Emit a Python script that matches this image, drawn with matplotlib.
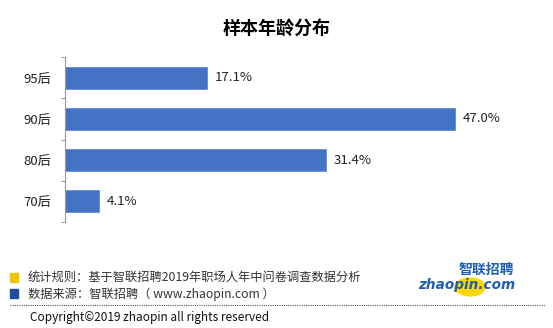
import matplotlib.pyplot as plt
from matplotlib.patches import Circle, Rectangle
from matplotlib.lines import Line2D

plt.rcParams['font.family'] = ['Noto Sans CJK SC', 'DejaVu Sans']

# 数据
groups = ['95后', '90后', '80后', '70后']
shares = [17.1, 47.0, 31.4, 4.1]
labels = ['17.1%', '47.0%', '31.4%', '4.1%']

fig = plt.figure(figsize=(5.53, 3.28), dpi=100)
W, H = 553, 328

ax = fig.add_axes([65 / W, 1 - 222 / H, 480 / W, 165 / H])
pos = list(range(len(groups)))
ax.barh(pos, shares, height=0.53, color='#4472C4', edgecolor='#5B84D0', linewidth=0.5)
ax.set_ylim(len(groups) - 0.5, -0.5)
ax.set_xlim(0, 57.8)
ax.set_yticks(pos)
ax.set_yticklabels(groups, fontsize=9.5, color='#222222')
ax.tick_params(axis='y', length=0, pad=10)
ax.set_yticks([p - 0.5 for p in range(len(groups) + 1)], minor=True)
ax.tick_params(axis='y', which='minor', length=3, color='#999999', width=0.8)
ax.set_xticks([])
for s in ['top', 'right', 'bottom']:
    ax.spines[s].set_visible(False)
ax.spines['left'].set_color('#999999')
ax.spines['left'].set_linestyle((0, (1, 1)))
for p, v, t in zip(pos, shares, labels):
    ax.text(v + 0.9, p, t, va='center', ha='left', fontsize=9.5, color='#222222')

# 标题
fig.text(0.5, 1 - 28 / H, '样本年龄分布', ha='center', va='center', fontsize=13, fontweight='bold')

# 注释
fig.patches.append(Rectangle((10 / W, 1 - 282 / H), 8 / W, 9 / H, transform=fig.transFigure,
                             color='#F5C400', figure=fig))
fig.patches.append(Rectangle((10 / W, 1 - 298 / H), 8 / W, 9 / H, transform=fig.transFigure,
                             color='#1F4E9E', figure=fig))
fig.text(28 / W, 1 - 277 / H, '统计规则：基于智联招聘2019年职场人年中问卷调查数据分析',
         ha='left', va='center', fontsize=8.8, color='#333333')
fig.text(28 / W, 1 - 294 / H, '数据来源：智联招聘（ www.zhaopin.com ）',
         ha='left', va='center', fontsize=8.8, color='#333333')
fig.lines.append(Line2D([10 / W, 545 / W], [1 - 305 / H, 1 - 305 / H], transform=fig.transFigure,
                        color='#555555', linewidth=0.8, linestyle=(0, (1, 1))))
fig.text(30 / W, 1 - 318 / H, 'Copyright©2019 zhaopin all rights reserved',
         ha='left', va='center', fontsize=8.5, color='#111111')

# 标志
fig.patches.append(Circle((470 / W, 1 - 287 / H), 15 / W, transform=fig.transFigure,
                          color='#FFD700', figure=fig))
fig.text(486 / W, 1 - 270 / H, '智联招聘', ha='center', va='center', fontsize=10,
         fontweight='bold', color='#1F5FB0', style='italic')
fig.text(467 / W, 1 - 285 / H, 'zhaopin.com', ha='center', va='center', fontsize=9.8,
         fontweight='bold', color='#1F5FB0', style='italic', family='DejaVu Sans')

fig.savefig('out.png', dpi=100)
